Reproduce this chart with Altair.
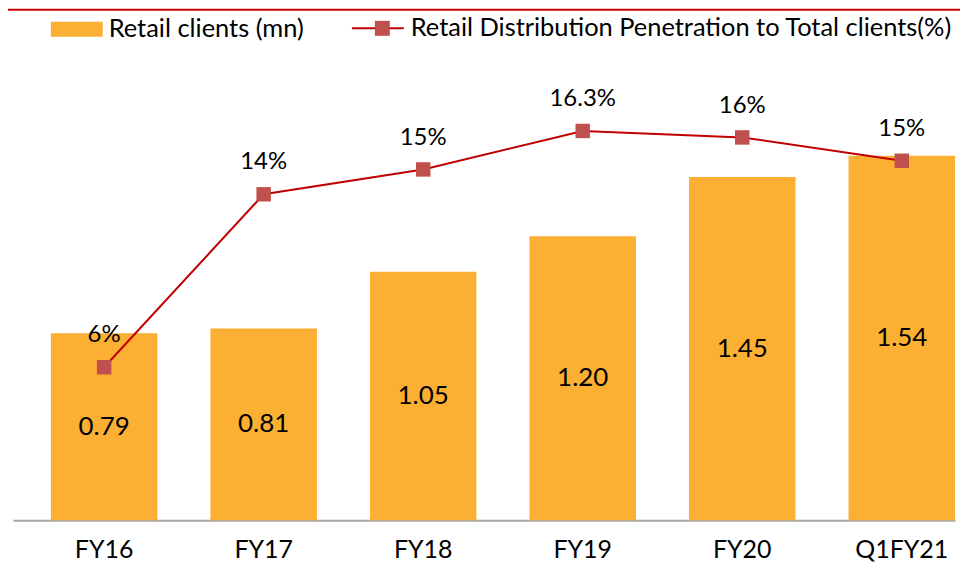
import altair as alt
import pandas as pd

categories = ["FY16", "FY17", "FY18", "FY19", "FY20", "Q1FY21"]
clients = [0.79, 0.81, 1.05, 1.20, 1.45, 1.54]
client_labels = ["0.79", "0.81", "1.05", "1.20", "1.45", "1.54"]
penetration = [6.0, 14.0, 15.15, 16.93, 16.63, 15.55]
pen_labels = ["6%", "14%", "15%", "16.3%", "16%", "15%"]

bar_name = "Retail clients (mn)"
line_name = "Retail Distribution Penetration to Total clients(%)"

df = pd.DataFrame({
    "cat": categories,
    "clients": clients,
    "clients_lbl": client_labels,
    "pen": penetration,
    "pen_lbl": pen_labels,
    "bar_s": [bar_name] * len(categories),
    "line_s": [line_name] * len(categories),
    "mark_s": ["m"] * len(categories),
})

FONT = "Lato"
ORANGE = "#FBAF33"
LINE_RED = "#C00000"
MARK_RED = "#C0504D"

xenc = alt.X(
    "cat:N", sort=categories, title=None,
    scale=alt.Scale(paddingInner=0.3325, paddingOuter=0.11875, align=1),
    axis=alt.Axis(labelAngle=0, labelFontSize=25, labelFont=FONT, labelColor="#000000",
                  ticks=False, labelPadding=17, domainColor="#A6A6A6", domainWidth=2,
                  grid=False),
)

ybar = alt.Y("clients:Q", scale=alt.Scale(domain=[0, 1.8], nice=False), axis=None)
ypen = alt.Y("pen:Q", scale=alt.Scale(domain=[-1.078, 18.634], nice=False, zero=False), axis=None)

base = alt.Chart(df)

bars = base.mark_bar().encode(
    x=xenc,
    y=ybar,
    color=alt.Color("bar_s:N", scale=alt.Scale(domain=[bar_name], range=[ORANGE]),
                    legend=alt.Legend(orient="none", legendX=38, legendY=-91, title=None,
                                      symbolType="M-1,-0.288H1V0.288H-1Z", symbolSize=2704,
                                      symbolStrokeWidth=0, symbolFillColor=ORANGE,
                                      labelFontSize=25.5, labelFont=FONT, labelColor="#000000",
                                      labelOffset=6, labelLimit=0, padding=0)),
)

bar_text = base.transform_calculate(mid="datum.clients / 2").mark_text(
    fontSize=26, font=FONT, color="#000000", baseline="middle"
).encode(
    x=alt.X("cat:N", sort=categories),
    y=alt.Y("mid:Q", scale=alt.Scale(domain=[0, 1.8], nice=False), axis=None),
    text="clients_lbl:N",
)

bar_layer = alt.layer(bars, bar_text)

line = base.mark_line(strokeWidth=2).encode(
    x=alt.X("cat:N", sort=categories),
    y=ypen,
    stroke=alt.Stroke("line_s:N", scale=alt.Scale(domain=[line_name], range=[LINE_RED]),
                      legend=alt.Legend(orient="none", legendX=339, legendY=-93, title=None,
                                        symbolType="stroke", symbolSize=2704,
                                        symbolStrokeWidth=2,
                                        labelFontSize=25.5, labelFont=FONT, labelColor="#000000",
                                        labelOffset=6, labelLimit=0, padding=0)),
)

squares = base.mark_square(size=210, opacity=1).encode(
    x=alt.X("cat:N", sort=categories),
    y=ypen,
    fill=alt.Fill("mark_s:N", scale=alt.Scale(domain=["m"], range=[MARK_RED]),
                  legend=alt.Legend(orient="none", legendX=357.5, legendY=-79, title=None,
                                    symbolType="square", symbolSize=225, symbolStrokeWidth=0,
                                    labelExpr="''", labelFontSize=26, padding=0)),
)

pen_text = base.mark_text(fontSize=24, font=FONT, color="#000000", baseline="middle", dy=-32).encode(
    x=alt.X("cat:N", sort=categories),
    y=ypen,
    text="pen_lbl:N",
)

pen_layer = alt.layer(line, squares, pen_text)

top_rule = alt.Chart(pd.DataFrame({"k": [0]})).mark_rule(color=LINE_RED, strokeWidth=2).encode(
    x=alt.value(-5), x2=alt.value(950), y=alt.value(-84.5)
)

chart = alt.layer(bar_layer, pen_layer, top_rule).resolve_scale(y="independent").properties(
    width=945, height=427.5,
    autosize=alt.AutoSizeParams(type="none"),
    padding={"left": 5, "top": 85.5, "right": 6, "bottom": 44},
).configure_view(stroke=None)

chart.save("out.html", embed_options={"renderer": "svg", "actions": False})
